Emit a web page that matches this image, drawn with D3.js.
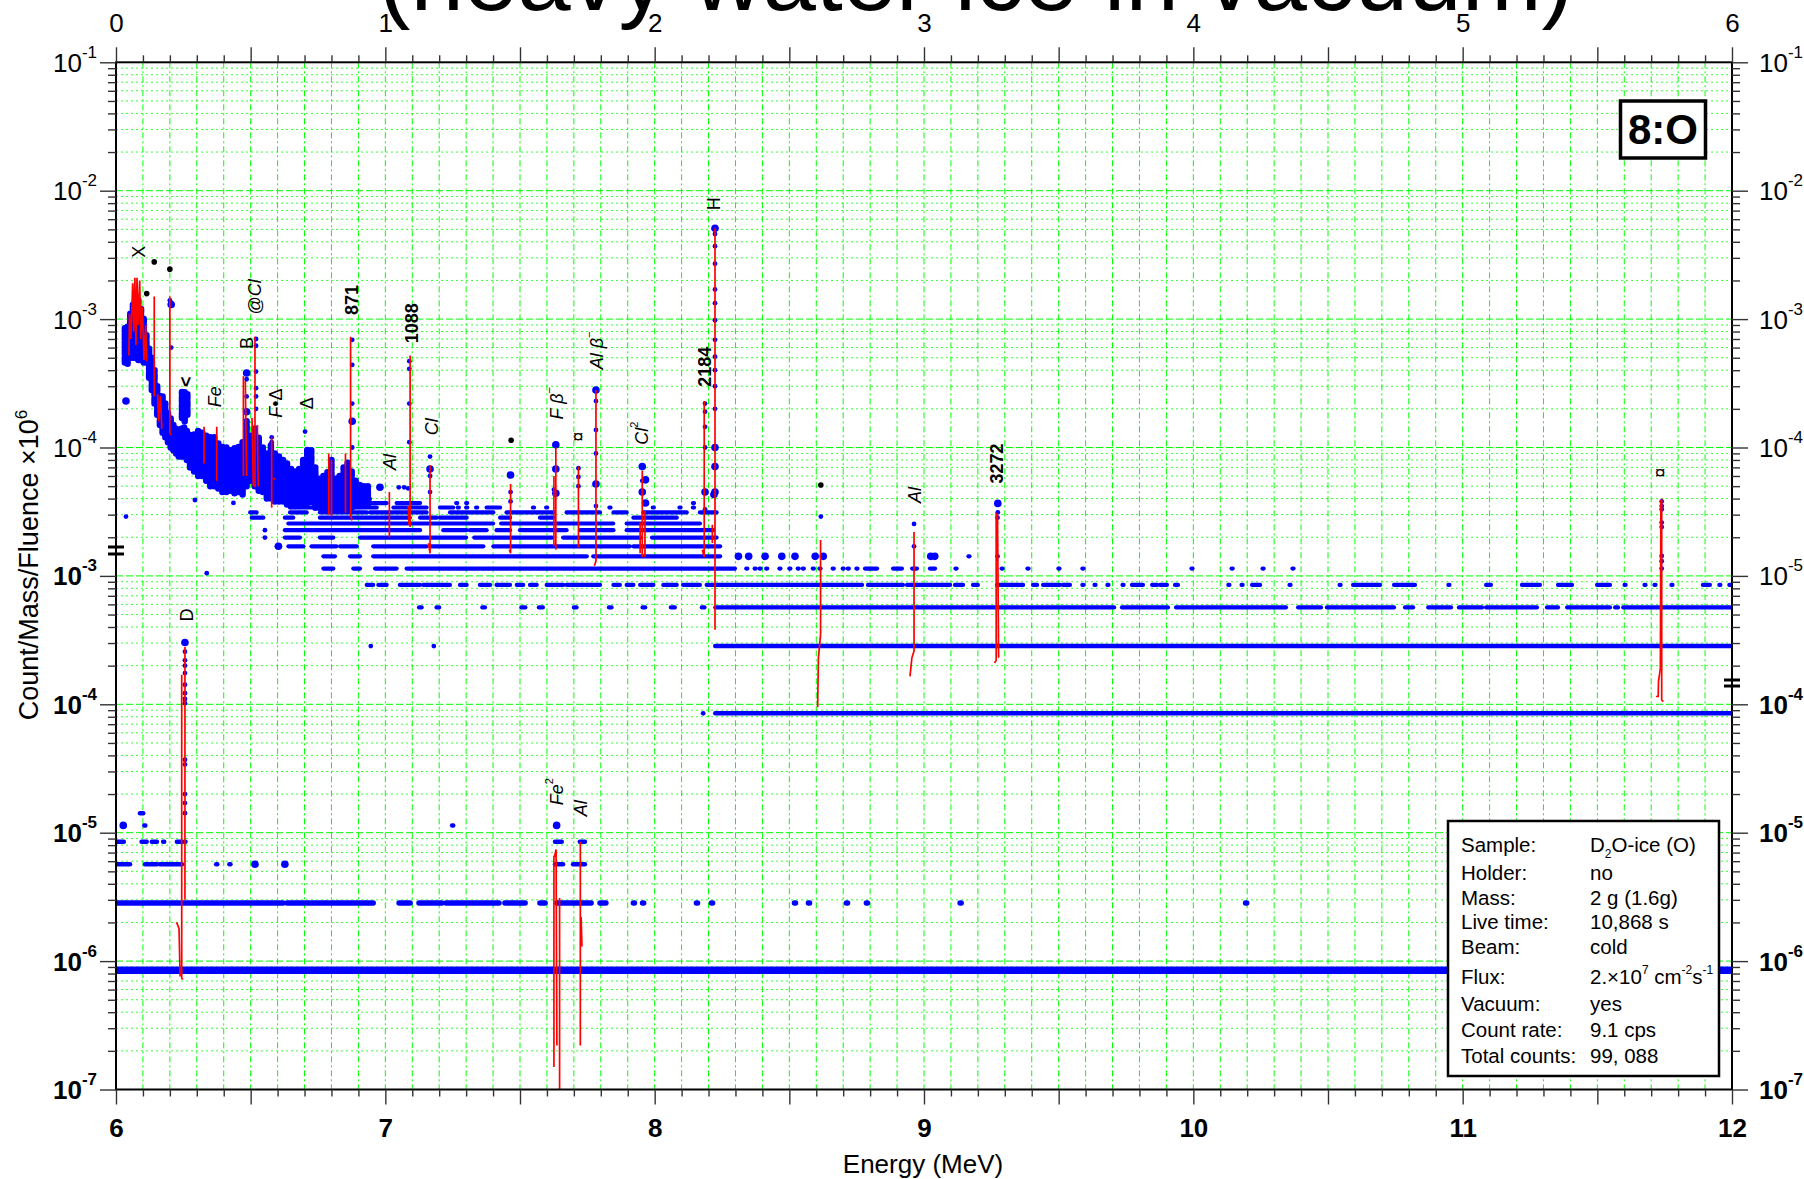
<!DOCTYPE html>
<html>
<head>
<meta charset="utf-8">
<script src="https://cdn.jsdelivr.net/npm/d3@7"></script>
<style>
html,body{margin:0;padding:0;background:#fff;}
svg{display:block;}
text{font-family:"Liberation Sans", Arial, Helvetica, sans-serif;}
</style>
</head>
<body>
<svg id="chart" width="1804" height="1179"></svg>
<script>
// ---------------- DATA ----------------
const titleText = "(heavy water ice in vacuum)";
const xAxisTitle = "Energy (MeV)";
const topTickLabels = ["0","1","2","3","4","5","6"];
const bottomTickLabels = ["6","7","8","9","10","11","12"];

// Upper spectrum (top axis 0-6 MeV, upper y scale): dense rows of points
const upperBandValues = [8.5e-7, 2.84e-6, 5.68e-6, 8.5e-6, 1.14e-5, 1.42e-5, 1.70e-5, 1.99e-5, 2.27e-5, 2.56e-5, 2.84e-5, 3.12e-5, 3.41e-5, 3.69e-5, 3.98e-5];
const upperBandSegments = [
 [[2.225,6.0]],
 [[2.225,6.0]],
 [[1.125,1.135],[1.19,1.2],[1.36,1.37],[1.505,1.52],[1.57,1.585],[1.70,1.71],[1.83,1.84],[1.955,1.965],[2.06,2.075],[2.175,2.185],[2.225,3.706],[3.735,3.906],[3.936,4.344],[4.389,4.474],[4.496,4.745],[4.786,4.816],[4.872,4.957],[4.986,5.072],[5.087,5.276],[5.313,5.354],[5.388,5.547],[5.566,5.577],[5.596,6.0]],
 [[0.931,0.955],[0.974,1.005],[1.054,1.129],[1.141,1.240],[1.277,1.302],[1.351,1.389],[1.413,1.463],[1.488,1.512],[1.537,1.562],[1.599,1.661],[1.673,1.797],[1.847,1.871],[1.896,1.921],[1.946,1.995],[2.032,2.082],[2.106,2.168],[2.193,2.770],[2.792,2.922],[2.937,3.097],[3.115,3.145],[3.182,3.200],[3.271,3.368],[3.405,3.420],[3.442,3.505],[3.516,3.542],[3.588,3.592],[3.633,3.637],[3.681,3.685],[3.737,3.741],[3.772,3.813],[3.847,3.865],[3.876,3.902],[3.932,3.943],[4.130,4.134],[4.179,4.183],[4.218,4.248],[4.357,4.361],[4.543,4.547],[4.593,4.693],[4.745,4.823],[4.947,4.951],[5.087,5.105],[5.220,5.287],[5.354,5.406],[5.499,5.547],[5.601,5.605],[5.675,5.679],[5.712,5.716],[5.775,5.779],[5.892,5.918],[5.953,5.957],[5.990,5.996]],
 [[0.770,0.807],[0.881,0.906],[0.962,1.042],[1.079,2.298],[2.340,2.344],[2.371,2.375],[2.389,2.393],[2.414,2.418],[2.463,2.467],[2.500,2.504],[2.531,2.535],[2.550,2.554],[2.587,2.591],[2.612,2.616],[2.661,2.665],[2.698,2.702],[2.717,2.721],[2.749,2.753],[2.781,2.826],[2.885,2.918],[2.956,2.974],[3.022,3.041],[3.117,3.121],[3.288,3.292],[3.384,3.388],[3.499,3.503],[3.588,3.592],[3.993,3.997],[4.142,4.146],[4.257,4.261],[4.368,4.372]],
 [[0.770,0.813],[0.869,0.906],[0.955,1.748],[1.772,2.243],[3.165,3.169]],
 [[0.597,0.609],[0.640,0.696],[0.726,0.819],[0.832,0.894],[0.955,1.153],[1.166,1.364],[1.401,1.908],[1.921,2.243]],
 [[0.627,0.683],[0.757,0.807],[0.906,1.30],[1.33,1.62],[1.66,1.95],[1.99,2.23]],
 [[0.627,1.129],[1.215,1.302],[1.314,1.376],[1.413,1.463],[1.500,1.673],[1.723,1.847],[1.896,2.218]],
 [[0.640,1.40],[1.43,1.846],[1.896,2.168]],
 [[0.504,0.547],[0.627,0.658],[0.757,1.091],[1.129,1.191],[1.203,1.302],[1.426,1.463],[1.574,1.624],[1.921,2.082]],
 [[0.498,0.522],[0.646,0.708],[0.757,0.931],[0.943,1.153],[1.240,1.401],[1.450,1.624],[1.673,1.797],[1.847,1.896],[1.958,2.119],[2.168,2.230]],
 [[0.646,0.807],[0.869,0.968],[1.030,1.153],[1.203,1.252],[1.269,1.273],[1.300,1.304],[1.337,1.341],[1.376,1.426],[1.548,1.552],[1.597,1.601],[1.832,1.836],[1.993,1.997],[2.092,2.096],[2.142,2.146]],
 [[0.658,0.757],[0.807,0.881],[0.931,1.005],[1.042,1.129],[1.263,1.267],[1.300,1.304],[2.142,2.146]],
 [[0.757,0.807],[0.869,0.943]]
];

// Low-energy cloud of the upper spectrum: energy column, lowest and highest value
const cloudEnergy = [0.033,0.043,0.053,0.063,0.073,0.083,0.093,0.103,0.113,0.123,0.133,0.143,0.153,0.163,0.173,0.183,0.193,0.203,0.213,0.223,0.233,0.243,0.253,0.263,0.245,0.255,0.265,0.275,0.29,0.305,0.32,0.335,0.35,0.365,0.38,0.395,0.41,0.425,0.44,0.455,0.47,0.485,0.50,0.515,0.53,0.545,0.56,0.575,0.59,0.605,0.62,0.635,0.65,0.665,0.68,0.695,0.71,0.725,0.74,0.755,0.77,0.785,0.80,0.815,0.83,0.845,0.86,0.875,0.89,0.905,0.92,0.935];
const cloudLow = [4.6e-4,4.5e-4,5.0e-4,5.0e-4,5.0e-4,4.8e-4,4.8e-4,4.6e-4,4.6e-4,3.5e-4,2.8e-4,2.2e-4,1.8e-4,1.5e-4,1.3e-4,1.2e-4,1.1e-4,1.0e-4,9.5e-5,9.0e-5,8.5e-5,8.5e-5,8.5e-5,8.0e-5,1.7e-4,1.6e-4,1.8e-4,7.0e-5,6.5e-5,6.0e-5,6.0e-5,5.5e-5,5.0e-5,5.0e-5,4.8e-5,4.5e-5,4.5e-5,4.6e-5,4.4e-5,4.5e-5,4.3e-5,5.0e-5,5.5e-5,5.0e-5,4.6e-5,4.5e-5,4.0e-5,4.0e-5,3.8e-5,3.8e-5,3.8e-5,3.6e-5,3.5e-5,3.5e-5,3.5e-5,3.6e-5,3.7e-5,3.8e-5,3.4e-5,3.4e-5,3.3e-5,3.3e-5,3.3e-5,3.4e-5,3.3e-5,3.3e-5,3.4e-5,3.4e-5,3.5e-5,3.5e-5,3.6e-5,3.6e-5];
const cloudHigh = [8.5e-4,9.0e-4,1.1e-3,1.3e-3,1.5e-3,1.4e-3,1.2e-3,1.0e-3,7.5e-4,6.0e-4,5.0e-4,4.0e-4,3.0e-4,2.6e-4,2.5e-4,2.2e-4,1.9e-4,1.7e-4,1.5e-4,1.4e-4,1.3e-4,1.4e-4,1.5e-4,1.4e-4,2.7e-4,2.8e-4,2.6e-4,1.25e-4,1.3e-4,1.35e-4,1.3e-4,1.25e-4,1.2e-4,1.2e-4,1.1e-4,1.05e-4,1.0e-4,9.5e-5,1.0e-4,1.05e-4,1.1e-4,1.6e-4,1.3e-4,1.4e-4,1.2e-4,1.0e-4,9.0e-5,1.05e-4,9.0e-5,8.5e-5,8.0e-5,7.5e-5,7.0e-5,6.5e-5,7.0e-5,8.0e-5,1.0e-4,9.5e-5,7.0e-5,6.0e-5,6.0e-5,6.5e-5,8.0e-5,6.0e-5,6.0e-5,7.0e-5,8.0e-5,6.5e-5,5.5e-5,5.2e-5,5.0e-5,5.0e-5];

// Individual points of the upper spectrum: [energy, value, big?]
const upperDots = [
 [0.037,2.3e-4,1],[0.037,2.9e-5,0],[0.205,1.3e-3,1],[0.205,6.0e-4,0],[0.2,1.4e-3,0],
 [2.224,5.1e-3,1],[2.224,4.6e-3,0],[2.224,3.7e-3,0],[2.224,2.7e-3,0],[2.224,1.7e-3,0],[2.224,1.33e-3,0],[2.224,9.8e-4,0],[2.224,6.9e-4,0],[2.224,5.1e-4,0],[2.224,4.0e-4,0],[2.224,3.0e-4,0],[2.224,2.0e-4,0],[2.224,1.0e-4,1],[2.224,7.1e-5,1],[2.224,4.5e-5,1],[2.22,4.3e-5,1],
 [2.187,2.2e-4,0],[2.187,1.9e-4,0],[2.187,1.45e-4,0],[2.187,1.0e-4,0],[2.187,4.5e-5,1],[2.187,3.3e-5,0],
 [1.782,2.8e-4,1],[1.782,2.3e-4,0],[1.782,1.37e-4,0],[1.782,9.0e-5,0],[1.782,5.2e-5,1],[1.782,3.5e-5,0],
 [1.633,1.05e-4,1],[1.633,6.8e-5,1],[1.633,4.4e-5,1],[1.626,4.7e-5,0],
 [1.717,6.9e-5,0],[1.717,5.9e-5,0],[1.717,5.0e-5,0],
 [1.465,6.1e-5,1],[1.465,4.5e-5,0],[1.465,3.8e-5,0],
 [1.954,7.1e-5,1],[1.954,5.5e-5,0],[1.954,4.5e-5,1],[1.966,5.6e-5,1],[1.966,3.7e-5,1],
 [1.166,8.5e-5,0],[1.166,6.8e-5,1],[1.166,6.0e-5,0],[1.166,4.5e-5,0],
 [1.089,4.7e-4,0],[1.089,4.1e-4,0],[1.089,2.2e-4,0],[1.089,1.1e-4,0],
 [0.877,6.9e-4,0],[0.877,4.4e-4,0],[0.877,2.2e-4,0],[0.877,1.6e-4,1],[0.877,1.0e-4,0],
 [0.52,7.0e-4,0],[0.52,6.2e-4,0],[0.52,3.9e-4,0],[0.52,2.9e-4,0],[0.52,2.5e-4,0],[0.52,2.0e-4,0],
 [0.485,3.8e-4,1],[0.485,3.4e-4,0],[0.485,2.5e-4,0],[0.485,1.9e-4,1],[0.485,1.6e-4,0],
 [0.578,1.2e-4,0],[0.578,1.1e-4,0],[0.702,1.33e-4,0],
 [0.98,4.9e-5,1],[1.05,4.9e-5,0],[1.07,4.9e-5,0],[1.085,4.8e-5,0],[0.93,4.8e-5,0],
 [0.337,1.05e-5,0],[0.293,3.9e-5,0],[0.436,3.7e-5,0],[0.553,2.27e-5,0],[0.553,1.99e-5,0],[0.603,1.7e-5,1],
 [0.946,2.84e-6,0],[1.18,2.84e-6,0],[2.18,8.5e-7,0],
 [2.311,1.42e-5,1],[2.349,1.42e-5,1],[2.410,1.42e-5,1],[2.472,1.42e-5,1],[2.521,1.42e-5,1],[2.596,1.42e-5,1],[2.626,1.42e-5,1],[3.025,1.42e-5,1],[3.04,1.42e-5,1],
 [2.617,2.9e-5,0],[2.963,2.54e-5,0],[2.963,1.7e-5,0],
 [3.274,3.67e-5,1],[3.274,3.12e-5,0],[3.273,2.84e-5,0],[3.273,1.42e-5,0],
 [5.739,3.8e-5,0],[5.739,3.5e-5,0],[5.739,3.3e-5,0],[5.739,2.6e-5,0],[5.739,2.4e-5,0],[5.739,1.43e-5,0],[5.739,1.3e-5,0],[5.739,1.14e-5,0]
];
const upperBlackDots = [[0.142,2.79e-3],[0.2,2.45e-3],[0.114,1.58e-3],[1.467,1.14e-4],[2.617,5.1e-5]];

// Red peak-fit lines, upper spectrum: polylines [energy, value]
const upperPeakLines = [
 [[0.048,5.2e-4],[0.050,1.1e-3],[0.055,7.0e-4],[0.062,1.9e-3],[0.066,8.0e-4],[0.070,2.1e-3],[0.074,6.3e-4],[0.078,2.1e-3],[0.082,9.0e-4],[0.088,2.0e-3],[0.092,7.0e-4],[0.098,1.25e-3],[0.104,4.8e-4],[0.110,9.0e-4],[0.114,4.7e-4]],
 [[0.142,1.5e-3],[0.142,2.5e-4]],
 [[0.155,2.6e-4],[0.158,1.6e-4],[0.165,2.5e-4],[0.170,1.4e-4]],
 [[0.200,1.5e-3],[0.200,1.3e-4],[0.205,1.25e-4]],
 [[0.327,1.45e-4],[0.327,7.5e-5]],
 [[0.374,1.45e-4],[0.374,5.5e-5]],
 [[0.473,3.6e-4],[0.473,6.0e-5]],
 [[0.480,3.3e-4],[0.485,6.0e-5]],
 [[0.516,7.3e-4],[0.516,4.9e-5]],
 [[0.505,1.7e-4],[0.510,5.0e-5]],
 [[0.525,1.5e-4],[0.528,5.0e-5]],
 [[0.578,1.2e-4],[0.578,3.4e-5]],
 [[0.585,5.8e-5],[0.590,5.6e-5]],
 [[0.790,9.0e-5],[0.790,3.0e-5]],
 [[0.800,8.0e-5],[0.800,2.9e-5]],
 [[0.852,9.0e-5],[0.852,3.1e-5]],
 [[0.871,7.3e-4],[0.871,3.0e-5],[0.876,2.7e-5]],
 [[1.015,4.5e-5],[1.015,2.0e-5]],
 [[1.092,5.2e-4],[1.092,2.4e-5]],
 [[1.085,3.5e-5],[1.088,2.5e-5]],
 [[1.166,7.3e-5],[1.166,1.5e-5],[1.160,1.8e-5]],
 [[1.465,5.2e-5],[1.465,1.5e-5],[1.460,1.6e-5]],
 [[1.633,1.0e-4],[1.633,1.6e-5]],
 [[1.626,6.0e-5],[1.626,1.7e-5]],
 [[1.717,7.1e-5],[1.717,1.7e-5],[1.722,1.7e-5]],
 [[1.782,2.8e-4],[1.782,1.3e-5],[1.776,1.2e-5]],
 [[1.954,6.6e-5],[1.954,1.4e-5]],
 [[1.964,3.2e-5],[1.964,1.4e-5]],
 [[1.946,2.6e-5],[1.946,1.5e-5]],
 [[2.184,2.3e-4],[2.184,1.4e-5],[2.177,1.6e-5]],
 [[2.224,5.1e-3],[2.224,3.8e-6]],
 [[2.214,2.5e-5],[2.214,1.8e-5]],
 [[2.616,1.9e-5],[2.616,3.5e-6],[2.608,2.3e-6],[2.605,9.5e-7]],
 [[2.963,2.2e-5],[2.963,2.6e-6],[2.955,2.3e-6],[2.948,1.65e-6]],
 [[3.268,3.1e-5],[3.268,2.2e-6],[3.262,2.1e-6]],
 [[3.273,3.0e-5],[3.277,2.3e-6]],
 [[5.739,4.0e-5],[5.739,1.08e-6],[5.745,1.05e-6]],
 [[5.736,3.9e-5],[5.734,1.9e-6],[5.727,1.5e-6],[5.726,1.15e-6],[5.718,1.15e-6]]
];

// Lower spectrum (bottom axis 6-12 MeV, lower y scale)
const lowerBandValues = [8.5e-7, 2.84e-6, 5.68e-6, 8.5e-6, 1.14e-5, 1.42e-5];
const lowerBandSegments = [
 [[6.0,12.0]],
 [[6.0,6.62],[6.635,6.955],[7.051,7.092],[7.125,7.21],[7.225,7.422],[7.444,7.519],[7.574,7.593],[7.637,7.764],[7.797,7.819],[7.921,7.925],[7.955,7.959],[8.155,8.159],[8.211,8.215],[8.519,8.523],[8.571,8.575],[8.712,8.716],[8.786,8.790],[9.134,9.138],[10.194,10.198]],
 [[6.0,6.052],[6.108,6.152],[6.163,6.208],[6.212,6.245],[6.372,6.376],[6.421,6.425],[7.630,7.660],[7.697,7.741]],
 [[6.0,6.029],[6.095,6.114],[6.133,6.152],[6.175,6.179],[6.226,6.245],[6.254,6.258],[7.630,7.655],[7.722,7.741]],
 [[6.105,6.109],[7.248,7.252]],
 [[6.089,6.101]]
];
const lowerDots = [
 [6.256,3.03e-4,1],[6.256,2.57e-4,0],[6.256,2.2e-4,0],[6.256,2.0e-4,0],[6.256,1.75e-4,0],[6.256,1.42e-4,0],[6.256,1.22e-4,0],[6.256,1.1e-4,0],[6.256,1.02e-4,0],[6.256,3.7e-5,0],[6.256,3.4e-5,0],[6.256,2.0e-5,0],[6.256,1.7e-5,0],[6.256,1.42e-5,0],
 [6.027,1.14e-5,1],[6.516,5.68e-6,1],[6.627,5.68e-6,1],[7.636,1.14e-5,1]
];
const lowerPeakLines = [
 [[6.256,2.8e-4],[6.256,3.0e-6]],
 [[6.244,1.7e-4],[6.244,7.4e-7],[6.248,7.2e-7]],
 [[6.225,2.0e-6],[6.234,1.8e-6],[6.238,7.6e-7]],
 [[7.626,6.6e-6],[7.626,1.5e-7]],
 [[7.628,6.5e-6],[7.634,7.4e-6],[7.637,2.2e-7]],
 [[7.647,3.1e-6],[7.647,1.0e-7]],
 [[7.724,8.5e-6],[7.724,2.2e-7]],
 [[7.727,2.2e-6],[7.730,1.3e-6]]
];

// Peak labels: parts [text, style], energy, value
const upperLabels = [
 [[["X","n"]],0.0865,3.35e-3],
 [[["<","b"]],0.259,3.25e-4],
 [[["Fe","i"]],0.368,2.49e-4],
 [[["B","n"]],0.485,6.5e-4],
 [[["@","n"],["Cl","i"]],0.516,1.49e-3],
 [[["F","i"],["•","n"],["Δ","n"]],0.594,2.22e-4],
 [[["Δ","n"]],0.708,2.21e-4],
 [[["871","b"]],0.875,1.41e-3],
 [[["Al","i"]],1.017,7.7e-5],
 [[["1088","b"]],1.098,9.3e-4],
 [[["Cl","i"]],1.172,1.45e-4],
 [[["F β","i"],["−","s"]],1.636,2.21e-4],
 [[["¤","n"]],1.717,1.21e-4],
 [[["Al β","i"],["−","s"]],1.785,5.7e-4],
 [[["Cl","i"],["2","s"]],1.952,1.29e-4],
 [[["2184","b"]],2.187,4.25e-4],
 [[["H","n"]],2.222,7.9e-3],
 [[["Al","i"]],2.967,4.27e-5],
 [[["3272","b"]],3.27,7.5e-5],
 [[["¤","n"]],5.733,6.37e-5]
];
const lowerLabels = [
 [[["D","n"]],6.2625,4.97e-4],
 [[["Fe","i"],["2","s"]],7.636,2.09e-5],
 [[["Al","i"]],7.7265,1.55e-5]
];

const legendKeys = ["Sample:","Holder:","Mass:","Live time:","Beam:","Flux:","Vacuum:","Count rate:","Total counts:"];
const legendValues = [
 [["D",0],["2",1],["O-ice (O)",0]],
 [["no",0]],
 [["2 g (1.6g)",0]],
 [["10,868 s",0]],
 [["cold",0]],
 [["2.×10",0],["7",-1],[" cm",0],["-2",-1],["s",0],["-1",-1]],
 [["yes",0]],
 [["9.1 cps",0]],
 [["99, 088",0]]
];
const sampleTag = "8:O";

// ---------------- CHART ----------------
const svg = d3.select("#chart");
const PL=116, PR=1732, PT=62.3, PB=1089.5;
const xTop = d3.scaleLinear().domain([0,6]).range([PL,PR]);
const xBot = d3.scaleLinear().domain([6,12]).range([PL,PR]);
const yUp = d3.scaleLog().domain([1e-9,1e-1]).range([PB,PT]);
const yLo = d3.scaleLog().domain([1e-7,1e1]).range([PB,PT]);
const BLUE="#0000ff", RED="#ff0000", GREEN="#00ff00";

function isDecade(v){const l=Math.log10(v);return Math.abs(l-Math.round(l))<1e-6;}
function logTicks(lo,hi){const out=[];for(let e=-10;e<=2;e++){for(let m=1;m<=9;m++){const v=m*Math.pow(10,e);if(v>=lo*0.999&&v<=hi*1.001)out.push(v);}}return out;}

svg.append("rect").attr("width",1804).attr("height",1179).attr("fill","#fff");

// title (partly cut off at top)
svg.append("text").attr("x",976).attr("y",10).attr("text-anchor","middle").attr("font-size",96).attr("fill","#000").text(titleText);

svg.append("defs").append("clipPath").attr("id","clip").append("rect")
  .attr("x",PL).attr("y",PT).attr("width",PR-PL).attr("height",PB-PT);

// grid
const grid = svg.append("g");
grid.selectAll(null).data(d3.range(1,60).map(i=>i/10)).enter().append("line")
  .attr("x1",d=>xTop(d)).attr("x2",d=>xTop(d)).attr("y1",PT).attr("y2",PB)
  .attr("stroke",GREEN).attr("stroke-width",1).attr("stroke-dasharray","6,3,2,3");
grid.selectAll(null).data(logTicks(1.5e-9,0.95e-1)).enter().append("line")
  .attr("x1",PL).attr("x2",PR).attr("y1",d=>yUp(d)).attr("y2",d=>yUp(d))
  .attr("stroke",GREEN).attr("stroke-width",1)
  .attr("stroke-opacity",d=>isDecade(d)?1:0.8)
  .attr("stroke-dasharray",d=>isDecade(d)?"7,3":"2,3");

const gData = svg.append("g").attr("clip-path","url(#clip)");

// cloud columns (speckled by dash pattern)
gData.selectAll(null).data(cloudEnergy.map((e,i)=>[e,cloudLow[i],cloudHigh[i]])).enter().append("line")
  .attr("x1",d=>xTop(d[0])).attr("x2",d=>xTop(d[0]))
  .attr("y1",d=>yUp(d[1])).attr("y2",d=>yUp(d[2]))
  .attr("stroke",BLUE).attr("stroke-width",6.5).attr("stroke-linecap","round")
  .attr("stroke-dasharray","5,3");

function drawBands(values, segs, xs, ys, widths){
  values.forEach((v,i)=>{
    gData.selectAll(null).data(segs[i]).enter().append("line")
      .attr("x1",d=>xs(d[0])).attr("x2",d=>Math.max(xs(d[1]),xs(d[0])+0.5))
      .attr("y1",ys(v)).attr("y2",ys(v))
      .attr("stroke",BLUE).attr("stroke-width",widths(i)).attr("stroke-linecap","round");
  });
}
drawBands(upperBandValues, upperBandSegments, xTop, yUp, i=> i<2?4.5:4.2);
drawBands(lowerBandValues, lowerBandSegments, xBot, yLo, i=> i===0?7.5:(i===1?5.5:4.5));

gData.selectAll(null).data(upperDots).enter().append("circle")
  .attr("cx",d=>xTop(d[0])).attr("cy",d=>yUp(d[1])).attr("r",d=>d[2]?3.8:2.4).attr("fill",BLUE);
gData.selectAll(null).data(lowerDots).enter().append("circle")
  .attr("cx",d=>xBot(d[0])).attr("cy",d=>yLo(d[1])).attr("r",d=>d[2]?3.8:2.4).attr("fill",BLUE);

// red peak lines
const lineU = d3.line().x(d=>xTop(d[0])).y(d=>yUp(d[1]));
const lineL = d3.line().x(d=>xBot(d[0])).y(d=>yLo(d[1]));
gData.selectAll(null).data(upperPeakLines).enter().append("path").attr("d",lineU)
  .attr("fill","none").attr("stroke",RED).attr("stroke-width",1.7);
gData.selectAll(null).data(lowerPeakLines).enter().append("path").attr("d",lineL)
  .attr("fill","none").attr("stroke",RED).attr("stroke-width",1.7);

// black marker dots
gData.selectAll(null).data(upperBlackDots).enter().append("circle")
  .attr("cx",d=>xTop(d[0])).attr("cy",d=>yUp(d[1])).attr("r",2.8).attr("fill","#000");

// peak labels (rotated)
function drawLabels(list, xs, ys){
  list.forEach(([parts,e,v])=>{
    const t = svg.append("text")
      .attr("transform",`translate(${xs(e)},${ys(v)}) rotate(-90)`)
      .attr("text-anchor","middle").attr("dominant-baseline","central")
      .attr("font-size",18).attr("fill","#000");
    let shift=0;
    parts.forEach(([txt,st])=>{
      const sp = t.append("tspan").text(txt);
      if(st==="i") sp.attr("font-style","italic");
      if(st==="b") sp.attr("font-weight","bold");
      if(st==="s"){ sp.attr("font-size",11).attr("dy",-8-shift); shift=-8; }
      else if(shift!==0){ sp.attr("dy",-shift); shift=0; }
    });
  });
}
drawLabels(upperLabels, xTop, yUp);
drawLabels(lowerLabels, xBot, yLo);

// frame
svg.append("rect").attr("x",PL).attr("y",PT).attr("width",PR-PL).attr("height",PB-PT)
  .attr("fill","none").attr("stroke","#000").attr("stroke-width",2);

// x axes
const xTicks = d3.range(0,61).map(i=>i/10);
const isHalf = d=>Math.abs(d*2-Math.round(d*2))<1e-6;
const gt = svg.append("g").attr("transform",`translate(0,${PT})`)
  .call(d3.axisTop(xTop).tickValues(xTicks).tickSize(7).tickSizeOuter(0)
    .tickFormat(d=>{const r=Math.round(d);return Math.abs(d-r)<1e-6?topTickLabels[r]:"";}));
gt.select(".domain").remove();
gt.selectAll(".tick line").attr("y2",d=>isHalf(d)?-15:-7).attr("stroke","#333").attr("stroke-width",1.4);
gt.selectAll(".tick text").attr("y",-30).attr("dy",0).attr("font-size",26).attr("fill","#000");

const xbTicks = d3.range(60,121).map(i=>i/10);
const gb = svg.append("g").attr("transform",`translate(0,${PB})`)
  .call(d3.axisBottom(xBot).tickValues(xbTicks).tickSize(7).tickSizeOuter(0)
    .tickFormat(d=>{const r=Math.round(d);return Math.abs(d-r)<1e-6?bottomTickLabels[r-6]:"";}));
gb.select(".domain").remove();
gb.selectAll(".tick line").attr("y2",d=>isHalf(d)?15:7).attr("stroke","#333").attr("stroke-width",1.4);
gb.selectAll(".tick text").attr("y",47).attr("dy",0).attr("font-size",26).attr("font-weight","bold").attr("fill","#000");

// y axes
function yAxis(scale, lo, hi, left, bold){
  const ax = (left?d3.axisLeft(scale):d3.axisRight(scale)).tickValues(logTicks(lo,hi)).tickFormat("").tickSize(8).tickSizeOuter(0);
  const g = svg.append("g").attr("transform",`translate(${left?PL:PR},0)`).call(ax);
  g.select(".domain").remove();
  g.selectAll(".tick line").attr("x2",d=>(isDecade(d)?16:8)*(left?-1:1)).attr("stroke","#333").attr("stroke-width",1.4);
  g.selectAll(".tick text").remove();
  g.selectAll(".tick").filter(d=>isDecade(d)).append("text")
    .attr("x",left?-19:27).attr("y",9).attr("text-anchor",left?"end":"start")
    .attr("fill","#000").attr("font-size",26).attr("font-weight",bold?"bold":"normal")
    .each(function(d){
      const t=d3.select(this);
      t.append("tspan").text("10");
      t.append("tspan").attr("dy",-14).attr("font-size",17).text(String(Math.round(Math.log10(d))));
    });
}
yAxis(yUp, 2e-5, 1e-1, true, false);
yAxis(yLo, 1e-7, 1e-3, true, true);
yAxis(yUp, 2e-6, 1e-1, false, false);
yAxis(yLo, 1e-7, 1e-4, false, true);

// axis break marks
[[PL,547],[PL,554],[PR,680],[PR,686]].forEach(([x,y])=>{
  svg.append("line").attr("x1",x-8).attr("x2",x+8).attr("y1",y).attr("y2",y)
    .attr("stroke","#000").attr("stroke-width",3);
});

// axis titles
svg.append("text").attr("x",923).attr("y",1173).attr("text-anchor","middle")
  .attr("font-size",26).attr("fill","#000").text(xAxisTitle);
const yt = svg.append("text").attr("transform","translate(38,565) rotate(-90)")
  .attr("text-anchor","middle").attr("font-size",27).attr("fill","#000");
yt.append("tspan").text("Count/Mass/Fluence ×10");
yt.append("tspan").attr("dy",-11).attr("font-size",17).text("6");

// sample tag box
svg.append("rect").attr("x",1620.5).attr("y",101).attr("width",85).attr("height",57)
  .attr("fill","#fff").attr("stroke","#000").attr("stroke-width",3.5);
svg.append("text").attr("x",1663).attr("y",144).attr("text-anchor","middle")
  .attr("font-size",42).attr("font-weight","bold").attr("fill","#000").text(sampleTag);

// legend box
svg.append("rect").attr("x",1448).attr("y",821).attr("width",271).attr("height",255)
  .attr("fill","#fff").attr("stroke","#000").attr("stroke-width",2.5);
const legendY = [852,880,905,929,954,984,1011,1037,1063];
legendKeys.forEach((k,i)=>{
  svg.append("text").attr("x",1461).attr("y",legendY[i]).attr("font-size",20.5).attr("fill","#000").text(k);
  const t = svg.append("text").attr("x",1590).attr("y",legendY[i]).attr("font-size",20.5).attr("fill","#000");
  let cur=0;
  legendValues[i].forEach(([txt,sh])=>{
    const sp=t.append("tspan").text(txt);
    const target = sh===1?6:(sh===-1?-10:0);
    if(target!==cur){ sp.attr("dy",target-cur); cur=target; }
    if(sh!==0) sp.attr("font-size",12);
  });
});
</script>
</body>
</html>
